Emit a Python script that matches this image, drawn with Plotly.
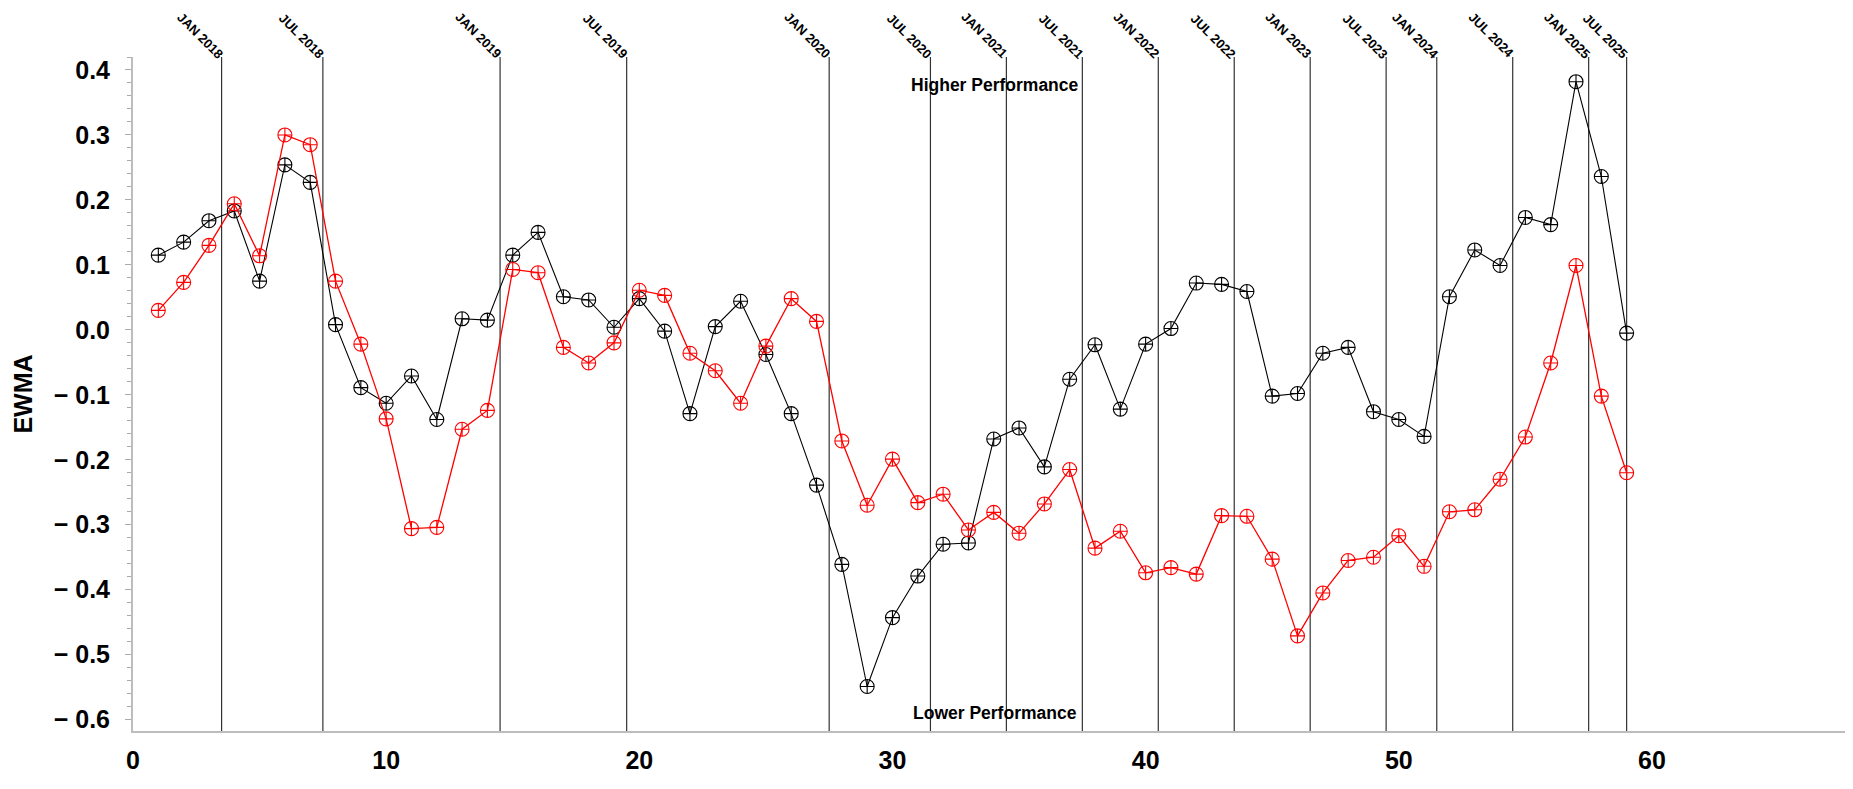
import plotly.graph_objects as go

# ---- data ----
idx = list(range(1, 60))
black_vals = [0.115, 0.135, 0.168, 0.183, 0.075, 0.254, 0.227, 0.008, -0.089, -0.113,
              -0.071, -0.138, 0.017, 0.015, 0.115, 0.150, 0.051, 0.046, 0.004, 0.048,
              -0.002, -0.129, 0.005, 0.044, -0.038, -0.129, -0.239, -0.361, -0.549, -0.443,
              -0.379, -0.330, -0.328, -0.168, -0.151, -0.211, -0.076, -0.023, -0.122, -0.022,
              0.002, 0.072, 0.070, 0.059, -0.102, -0.098, -0.036, -0.027, -0.126, -0.138,
              -0.164, 0.051, 0.123, 0.099, 0.173, 0.162, 0.382, 0.236, -0.005]
red_vals = [0.030, 0.073, 0.130, 0.194, 0.114, 0.300, 0.285, 0.075, -0.022, -0.137,
            -0.306, -0.304, -0.153, -0.124, 0.093, 0.088, -0.027, -0.051, -0.020, 0.061,
            0.053, -0.036, -0.063, -0.113, -0.025, 0.048, 0.013, -0.171, -0.270, -0.199,
            -0.266, -0.253, -0.308, -0.281, -0.313, -0.268, -0.215, -0.336, -0.310, -0.374,
            -0.366, -0.376, -0.286, -0.287, -0.353, -0.471, -0.405, -0.355, -0.350, -0.317,
            -0.364, -0.280, -0.277, -0.230, -0.165, -0.051, 0.099, -0.102, -0.220]
period_labels = ["JAN 2018", "JUL 2018", "JAN 2019", "JUL 2019", "JAN 2020", "JUL 2020",
                 "JAN 2021", "JUL 2021", "JAN 2022", "JUL 2022", "JAN 2023", "JUL 2023",
                 "JAN 2024", "JUL 2024", "JAN 2025", "JUL 2025"]
period_pos = [3.5, 7.5, 14.5, 19.5, 27.5, 31.5, 34.5, 37.5, 40.5, 43.5, 46.5, 49.5,
              51.5, 54.5, 57.5, 59.0]
y_ticks = [0.4, 0.3, 0.2, 0.1, 0.0, -0.1, -0.2, -0.3, -0.4, -0.5, -0.6]
x_ticks = [0, 10, 20, 30, 40, 50, 60]

FONT = "Liberation Sans"

fig = go.Figure()

# vertical period lines
for p in period_pos:
    fig.add_shape(type="line", xref="x", yref="paper", x0=p, x1=p, y0=0, y1=1,
                  line=dict(color="#333333", width=1.2), layer="below")

fig.add_trace(go.Scatter(
    x=idx, y=black_vals, mode="lines+markers",
    line=dict(color="black", width=1.1),
    marker=dict(symbol="circle-cross-open", size=14, color="black", line=dict(width=1.1)),
    showlegend=False))
fig.add_trace(go.Scatter(
    x=idx, y=red_vals, mode="lines+markers",
    line=dict(color="#ff0000", width=1.3),
    marker=dict(symbol="circle-cross-open", size=14, color="#ff0000", line=dict(width=1.1)),
    showlegend=False))

# period labels on top
for lab, p in zip(period_labels, period_pos):
    fig.add_annotation(x=p, y=1, xref="x", yref="paper", text="<b>%s</b>" % lab,
                       showarrow=False, textangle=45, xanchor="right", yanchor="bottom",
                       xshift=6, yshift=-6, borderpad=0,
                       font=dict(family=FONT, size=13, color="black"))

fig.add_annotation(x=0.5, y=1, xref="paper", yref="paper", text="<b>Higher Performance</b>",
                   showarrow=False, xanchor="center", yanchor="top", yshift=-16,
                   font=dict(family=FONT, size=17.5, color="black"))
fig.add_annotation(x=0.5, y=0, xref="paper", yref="paper", text="<b>Lower Performance</b>",
                   showarrow=False, xanchor="center", yanchor="bottom", yshift=6,
                   font=dict(family=FONT, size=17.5, color="black"))

fig.update_layout(
    width=1853, height=789,
    margin=dict(l=125, r=4, t=49, b=66),
    paper_bgcolor="white", plot_bgcolor="white",
    font=dict(family=FONT, color="black"),
    xaxis=dict(range=[0, 68.1], tickvals=x_ticks, ticktext=["<b>%d</b>" % v for v in x_ticks],
               showgrid=False, zeroline=False, showline=True, linecolor="#bdbdbd", linewidth=2,
               ticks="", tickfont=dict(family=FONT, size=25), ticklabelstandoff=6),
    yaxis=dict(range=[-0.6175, 0.42], tickvals=y_ticks,
               ticktext=["<b>%s</b>" % (("%.1f" % v).replace("-", "\u2212 ") if v < 0 else "%.1f" % v) for v in y_ticks],
               showgrid=False, zeroline=False, showline=True, linecolor="#bdbdbd", linewidth=2,
               ticks="outside", ticklen=6, tickcolor="#aaaaaa", tickwidth=1,
               minor=dict(dtick=0.02, ticks="outside", ticklen=4, tickcolor="#aaaaaa", tickwidth=1),
               tickfont=dict(family=FONT, size=25), ticklabelstandoff=10,
               title=dict(text="<b>EWMA</b>", font=dict(family=FONT, size=25), standoff=14)),
)

fig.write_html("out.html")
